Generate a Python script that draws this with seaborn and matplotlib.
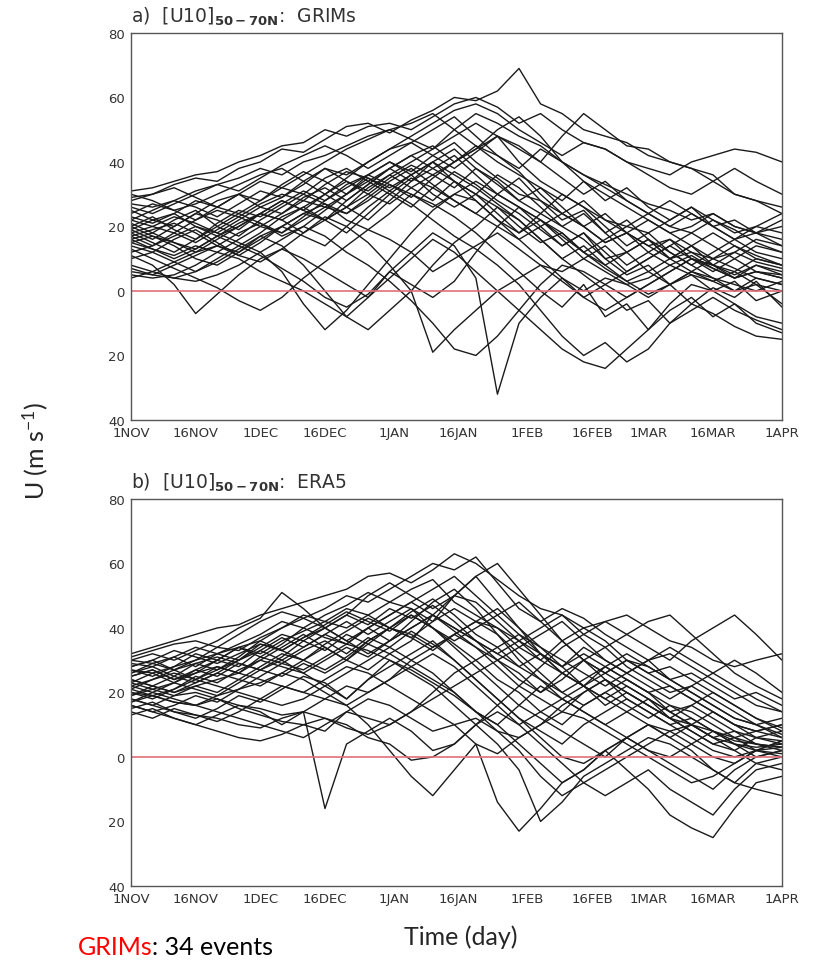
import matplotlib
matplotlib.use("Agg")
import matplotlib.pyplot as plt
import pandas as pd
import seaborn as sns

sns.set_style("white")
plt.rcParams["font.family"] = ["DejaVu Sans"]
plt.rcParams["mathtext.default"] = "regular"

# x positions: days since 1 Nov, one value every 5 days
days = list(range(0, 150, 5)) + [151]
tick_days = [0, 15, 30, 45, 61, 76, 92, 107, 120, 135, 151]
tick_labels = ["1NOV", "16NOV", "1DEC", "16DEC", "1JAN", "16JAN",
               "1FEB", "16FEB", "1MAR", "16MAR", "1APR"]
y_ticks = [80, 60, 40, 20, 0, -20, -40]
y_labels = ["80", "60", "40", "20", "0", "20", "40"]

# a) GRIMs events, zonal mean U10 at 50-70N (m/s)
grims = [
    [31, 32, 34, 36, 37, 40, 42, 45, 46, 50, 48, 51, 52, 50, 54, 58, 60, 57, 52, 55, 50, 46, 44, 40, 38, 36, 40, 42, 44, 43, 40],
    [29, 30, 33, 35, 34, 38, 40, 44, 43, 47, 51, 52, 49, 53, 56, 60, 59, 62, 69, 58, 55, 50, 48, 46, 42, 40, 38, 34, 30, 28, 24],
    [27, 26, 28, 31, 33, 35, 38, 36, 40, 42, 45, 48, 50, 47, 44, 50, 55, 52, 48, 45, 40, 36, 33, 30, 27, 25, 22, 24, 20, 18, 16],
    [25, 22, 20, 24, 28, 30, 26, 29, 34, 38, 36, 40, 44, 46, 42, 38, 43, 48, 45, 40, 35, 30, 34, 28, 24, 20, 18, 22, 19, 15, 12],
    [22, 20, 18, 15, 19, 23, 27, 30, 28, 33, 37, 35, 31, 36, 40, 44, 38, 33, 28, 32, 26, 20, 24, 18, 14, 16, 12, 10, 14, 11, 8],
    [21, 18, 22, 25, 20, 17, 22, 26, 30, 27, 24, 29, 34, 38, 33, 28, 24, 30, 35, 28, 22, 25, 18, 12, 16, 10, 6, 10, 7, 4, 2],
    [20, 17, 15, 12, 14, 18, 21, 18, 23, 28, 32, 36, 33, 29, 35, 40, 45, 42, 37, 30, 24, 20, 15, 18, 12, 8, 11, 7, 4, 6, 5],
    [19, 22, 24, 20, 17, 14, 18, 23, 26, 22, 28, 33, 38, 42, 38, 34, 30, 26, 20, 15, 18, 12, 8, 12, 6, 2, 5, 0, 3, -3, 0],
    [18, 15, 12, 16, 20, 24, 21, 17, 20, 25, 30, 34, 30, 26, 32, 37, 33, 28, 24, 19, 14, 18, 10, 5, 8, 2, -4, 1, -2, 3, -5],
    [17, 19, 21, 18, 14, 11, 15, 20, 24, 27, 22, 19, 24, 30, 27, 23, 18, 12, 6, 0, -5, 2, -8, -4, -12, -6, -2, -8, -4, -10, -13],
    [16, 13, 10, 13, 17, 21, 24, 22, 26, 30, 26, 22, 28, 34, 40, 36, 32, 27, 22, 16, 10, 5, 0, -6, -3, -10, -6, -2, -6, -9, -12],
    [15, 17, 14, 10, 8, 12, 16, 20, 17, 14, 20, 26, 31, 27, 22, 17, 13, 8, 2, -6, -14, -20, -16, -22, -18, -10, -4, -7, -11, -14, -15],
    [14, 12, 16, 19, 15, 11, 9, 13, 18, 23, 20, 15, 8, 0, -19, -12, -6, 0, 4, 8, 6, 10, 6, 2, 4, 8, 5, 3, 6, 2, 0],
    [13, 10, 7, 4, 1, -3, -6, -2, 4, 9, 14, 19, 16, 12, 6, 10, 14, 18, 13, 8, 3, -2, 2, 6, 10, 14, 10, 8, 12, 9, 7],
    [12, 14, 17, 20, 18, 15, 12, 6, -4, -12, -6, 2, 10, 18, 25, 30, 28, 22, 16, 10, 4, -2, -6, -2, 2, 6, 10, 7, 4, 6, 4],
    [11, 8, 2, -7, -1, 5, 10, 13, 10, 6, 2, -2, 4, 10, 16, 12, 6, 0, -6, -12, -18, -22, -24, -18, -12, -4, 2, 0, -4, -8, -10],
    [10, 12, 9, 6, 9, 13, 17, 14, 8, 0, -8, -2, 6, 2, -2, 3, 12, 20, 26, 22, 17, 12, 7, 3, -1, 2, 6, 3, 0, 4, 2],
    [8, 6, 4, 6, 10, 14, 11, 7, 3, -2, -5, -1, 6, 12, 18, 14, 4, -32, -10, -2, 4, 0, 4, 2, -2, 2, 6, 4, 2, 0, 3],
    [6, 5, 4, 3, 5, 8, 12, 16, 20, 17, 12, 8, 3, -3, -10, -18, -20, -14, -6, 2, 8, 6, 2, -2, 2, 6, 10, 8, 5, 8, 5],
    [5, 4, 5, 8, 12, 10, 6, 3, 0, -4, -8, -12, -6, 0, 8, 15, 20, 26, 22, 16, 10, 14, 8, 3, 6, 10, 12, 8, 6, 10, 8],
    [4, 6, 9, 12, 16, 20, 24, 28, 25, 22, 18, 24, 30, 35, 32, 28, 24, 20, 16, 20, 24, 20, 15, 18, 22, 18, 14, 10, 12, 16, 14],
    [30, 28, 25, 27, 30, 33, 36, 38, 34, 30, 35, 40, 44, 48, 52, 56, 58, 55, 50, 46, 42, 46, 44, 40, 36, 32, 30, 34, 38, 34, 30],
    [28, 30, 32, 29, 26, 30, 34, 32, 36, 40, 44, 47, 50, 52, 55, 50, 45, 40, 36, 32, 28, 34, 30, 26, 22, 18, 20, 24, 20, 18, 20],
    [26, 24, 27, 30, 33, 31, 35, 39, 42, 45, 42, 38, 42, 46, 50, 54, 48, 42, 38, 44, 40, 34, 28, 32, 26, 22, 26, 20, 16, 20, 18],
    [24, 27, 25, 22, 26, 30, 28, 32, 30, 35, 38, 34, 38, 42, 45, 40, 44, 48, 40, 34, 30, 26, 22, 20, 24, 28, 24, 20, 22, 18, 14],
    [23, 21, 24, 28, 26, 24, 28, 33, 37, 34, 30, 36, 40, 37, 42, 46, 40, 35, 30, 28, 24, 28, 22, 18, 14, 10, 14, 18, 14, 10, 8],
    [22, 25, 28, 26, 23, 27, 31, 29, 33, 38, 34, 30, 35, 39, 36, 32, 38, 34, 28, 24, 30, 26, 20, 14, 18, 12, 8, 12, 16, 12, 10],
    [20, 23, 19, 16, 21, 25, 23, 27, 31, 28, 33, 36, 40, 36, 30, 26, 30, 36, 32, 26, 20, 24, 18, 22, 16, 10, 14, 8, 4, 8, 6],
    [19, 16, 20, 24, 22, 19, 24, 28, 25, 30, 34, 31, 36, 32, 28, 34, 30, 24, 18, 22, 16, 10, 14, 8, 12, 16, 10, 6, 10, 14, 12],
    [18, 20, 23, 21, 18, 22, 26, 24, 29, 32, 28, 33, 38, 34, 38, 42, 36, 30, 26, 20, 14, 18, 12, 6, 10, 14, 18, 14, 10, 6, 4],
    [17, 14, 18, 22, 25, 23, 20, 24, 28, 26, 30, 35, 32, 36, 40, 34, 28, 22, 18, 24, 20, 16, 10, 12, 16, 12, 8, 4, 0, 2, -4],
    [16, 18, 15, 13, 17, 20, 24, 22, 18, 22, 26, 30, 27, 32, 36, 40, 44, 50, 54, 48, 40, 36, 32, 28, 24, 20, 24, 20, 16, 18, 22],
    [15, 13, 11, 14, 12, 16, 20, 18, 22, 26, 24, 28, 33, 30, 26, 30, 34, 30, 26, 22, 18, 12, 16, 20, 18, 22, 26, 22, 18, 20, 24],
    [7, 5, 8, 11, 14, 12, 17, 20, 24, 22, 26, 32, 36, 40, 44, 48, 52, 48, 44, 40, 48, 55, 50, 45, 44, 40, 38, 36, 30, 28, 26],
]

# b) ERA5 events
era5 = [
    [32, 34, 36, 38, 40, 41, 44, 46, 48, 50, 52, 56, 57, 54, 58, 63, 60, 55, 50, 46, 44, 40, 42, 44, 40, 36, 34, 30, 28, 30, 32],
    [31, 33, 35, 36, 34, 38, 42, 45, 43, 46, 50, 48, 52, 56, 60, 58, 62, 54, 46, 42, 46, 43, 38, 34, 30, 32, 28, 24, 20, 16, 14],
    [30, 32, 30, 33, 36, 40, 43, 51, 46, 40, 44, 50, 54, 50, 46, 50, 48, 42, 36, 40, 44, 38, 34, 38, 42, 44, 38, 32, 26, 22, 18],
    [29, 28, 31, 34, 32, 35, 38, 42, 40, 44, 47, 51, 48, 52, 55, 48, 44, 40, 34, 30, 36, 40, 36, 30, 26, 28, 24, 20, 16, 12, 9],
    [28, 30, 27, 30, 34, 33, 37, 40, 44, 42, 46, 44, 48, 46, 42, 50, 56, 48, 40, 32, 28, 34, 30, 26, 30, 24, 20, 16, 12, 10, 7],
    [27, 25, 28, 32, 30, 34, 32, 36, 39, 42, 40, 44, 40, 45, 49, 44, 38, 34, 28, 32, 26, 22, 28, 24, 20, 22, 18, 14, 10, 8, 6],
    [26, 29, 31, 28, 32, 30, 35, 33, 37, 40, 44, 41, 46, 43, 47, 42, 36, 30, 26, 20, 24, 30, 26, 22, 18, 14, 16, 12, 8, 6, 5],
    [25, 27, 24, 27, 30, 34, 31, 35, 40, 37, 35, 40, 44, 48, 44, 39, 34, 30, 24, 20, 26, 22, 16, 20, 16, 12, 10, 8, 5, 4, 3],
    [24, 22, 25, 29, 27, 31, 36, 33, 30, 35, 39, 43, 40, 37, 42, 46, 42, 38, 32, 26, 20, 16, 20, 24, 20, 14, 10, 6, 4, 3, 4],
    [23, 26, 23, 26, 30, 28, 33, 37, 34, 38, 42, 38, 42, 46, 40, 35, 30, 24, 20, 14, 10, 16, 20, 16, 12, 16, 12, 8, 6, 2, 1],
    [22, 20, 23, 27, 25, 29, 27, 31, 36, 33, 38, 35, 40, 37, 33, 38, 34, 28, 22, 18, 14, 20, 24, 18, 14, 10, 12, 8, 4, 2, 3],
    [21, 24, 27, 24, 28, 26, 31, 29, 33, 36, 32, 37, 34, 39, 35, 30, 24, 18, 12, 8, 4, 10, 14, 18, 14, 10, 6, 2, 0, 2, 5],
    [20, 18, 21, 25, 23, 27, 30, 28, 26, 30, 34, 31, 36, 42, 48, 52, 46, 38, 30, 24, 18, 14, 10, 14, 18, 14, 10, 6, 8, 4, 2],
    [19, 22, 20, 23, 26, 24, 28, 32, 30, 27, 31, 36, 40, 44, 40, 34, 28, 22, 16, 12, 8, 4, 0, 6, 10, 8, 4, 0, -2, 2, 0],
    [18, 16, 19, 22, 20, 24, 22, 26, 30, 34, 30, 27, 32, 36, 44, 50, 56, 60, 52, 44, 36, 30, 26, 30, 26, 22, 18, 14, 10, 8, 10],
    [17, 20, 18, 16, 19, 23, 27, 25, 29, 26, 30, 35, 32, 28, 24, 20, 14, 8, 2, -6, -12, -8, -4, 0, 4, 8, 10, 6, 2, -2, -4],
    [16, 14, 16, 19, 17, 21, 25, 29, 27, 31, 35, 33, 30, 26, 22, 16, 10, 4, -4, -20, -14, -6, -2, 2, 6, 4, 0, -4, -8, -10, -12],
    [15, 17, 14, 12, 15, 19, 17, 21, 25, 23, 18, 24, 30, 27, 23, 19, 14, 10, 4, -2, -8, -4, 2, -4, -10, -18, -22, -25, -16, -8, -6],
    [14, 12, 15, 13, 11, 14, 18, 22, 20, 24, 28, 26, 22, 18, 14, 10, 4, -14, -23, -16, -8, -4, 2, 6, 2, -2, -6, -10, -4, 0, 2],
    [13, 15, 12, 10, 13, 16, 14, 10, 14, 18, 22, 20, 24, 30, 34, 38, 42, 46, 40, 34, 28, 22, 18, 22, 18, 12, 8, 4, 2, 6, 8],
    [22, 24, 26, 24, 27, 30, 33, 30, 26, 22, 18, 24, 28, 32, 36, 30, 24, 18, 12, 6, 0, -2, 2, 6, 10, 6, 2, -4, -8, -2, 0],
    [24, 22, 20, 22, 24, 26, 30, 34, 38, 34, 30, 36, 40, 38, 34, 38, 42, 40, 36, 30, 26, 30, 34, 28, 24, 20, 22, 18, 14, 10, 12],
    [26, 28, 25, 23, 26, 30, 34, 38, 36, 40, 36, 32, 36, 40, 44, 40, 36, 32, 36, 32, 26, 22, 26, 30, 28, 24, 26, 22, 18, 20, 16],
    [20, 19, 17, 16, 14, 12, 10, 8, 6, 10, 14, 18, 16, 12, 8, 10, 12, 8, 6, 10, 14, 12, 8, 4, 0, -4, -8, -6, -2, 2, 5],
    [16, 14, 12, 10, 8, 6, 5, 7, 10, 8, 14, 12, 10, 14, 20, 26, 30, 34, 38, 34, 30, 26, 22, 26, 30, 34, 30, 26, 22, 18, 14],
    [18, 16, 14, 13, 12, 10, 9, 12, 14, 12, 10, 6, 4, -1, 0, 4, 10, 16, 22, 28, 34, 38, 42, 38, 34, 30, 36, 40, 44, 38, 30],
    [21, 19, 17, 16, 18, 15, 13, 11, 10, 12, 9, 7, 10, 14, 18, 22, 26, 30, 34, 38, 42, 36, 30, 26, 22, 18, 22, 26, 30, 26, 20],
    [23, 21, 19, 20, 18, 16, 15, 13, 14, -16, 4, 8, 12, 8, 2, 4, 10, 14, 10, 14, 18, 22, 18, 14, 10, 6, 10, 14, 10, 6, 4],
    [25, 27, 24, 26, 28, 26, 24, 22, 20, 18, 16, 20, 24, 28, 32, 28, 22, 16, 10, 4, -2, -8, -12, -8, -4, -10, -14, -18, -10, -4, -2],
    [27, 26, 28, 30, 32, 34, 36, 40, 43, 40, 36, 40, 44, 48, 52, 56, 50, 44, 38, 32, 28, 32, 28, 24, 20, 16, 14, 10, 6, 4, 3],
    [19, 21, 23, 21, 19, 21, 23, 26, 24, 20, 16, 10, 2, -6, -12, -4, 4, 1, 6, 10, 16, 20, 24, 20, 16, 12, 8, 4, 6, 8, 10],
    [17, 19, 21, 24, 22, 20, 18, 16, 18, 22, 26, 30, 34, 30, 26, 20, 14, 10, 16, 22, 18, 14, 10, 6, 2, 0, 4, 8, 4, 0, 2],
    [28, 30, 33, 31, 29, 32, 35, 33, 37, 41, 45, 42, 39, 44, 40, 36, 40, 44, 48, 42, 36, 30, 24, 20, 16, 12, 16, 20, 16, 12, 8],
    [30, 29, 27, 29, 31, 29, 27, 30, 34, 38, 35, 40, 36, 40, 44, 40, 36, 32, 28, 24, 20, 24, 28, 32, 28, 24, 20, 16, 12, 10, 6],
]


def to_long(series):
    frames = []
    for k, vals in enumerate(series):
        frames.append(pd.DataFrame({"day": days, "u": vals, "event": k}))
    return pd.concat(frames, ignore_index=True)


def draw_panel(ax, df, title):
    sns.lineplot(data=df, x="day", y="u", units="event", estimator=None,
                 color="#1a1a1a", lw=1.0, ax=ax)
    ax.axhline(0, color="#e0707c", lw=1.2)
    ax.set_xlim(0, 151)
    ax.set_ylim(-40, 80)
    ax.set_xticks(tick_days)
    ax.set_xticklabels(tick_labels)
    ax.set_yticks(y_ticks)
    ax.set_yticklabels(y_labels)
    ax.set_xlabel("")
    ax.set_ylabel("")
    ax.tick_params(direction="inout", length=7, width=1, colors="#444444",
                   labelsize=9.5, labelcolor="#333333", pad=1)
    for sp in ax.spines.values():
        sp.set_color("#555555")
        sp.set_linewidth(1.0)
    ax.text(0.0, 1.015, title, transform=ax.transAxes, ha="left", va="bottom",
            fontsize=13.5, color="#333333")


fig = plt.figure(figsize=(8.15, 9.62), dpi=100)
ax1 = fig.add_axes([0.1607, 0.5624, 0.7988, 0.4023])
ax2 = fig.add_axes([0.1607, 0.078, 0.7988, 0.4023])

draw_panel(ax1, to_long(grims), "a)  [U10]$_{\\mathbf{50-70N}}$:  GRIMs")
draw_panel(ax2, to_long(era5), "b)  [U10]$_{\\mathbf{50-70N}}$:  ERA5")

fig.text(0.043, 0.531, "U (m s$^{-1}$)", rotation=90, ha="center", va="center",
         fontsize=18, family="Lato")
fig.text(0.565, 0.018, "Time (day)", ha="center", va="baseline",
         fontsize=18, family="Lato")
t1 = fig.text(0.095, 0.007, "GRIMs", ha="left", va="baseline",
              fontsize=18, family="Lato", color="red")
ax2.annotate(": 34 events", xy=(1, 0), xycoords=t1, ha="left", va="bottom",
             fontsize=18, family="Lato", color="black", annotation_clip=False)

fig.savefig("out.png", dpi=100)
